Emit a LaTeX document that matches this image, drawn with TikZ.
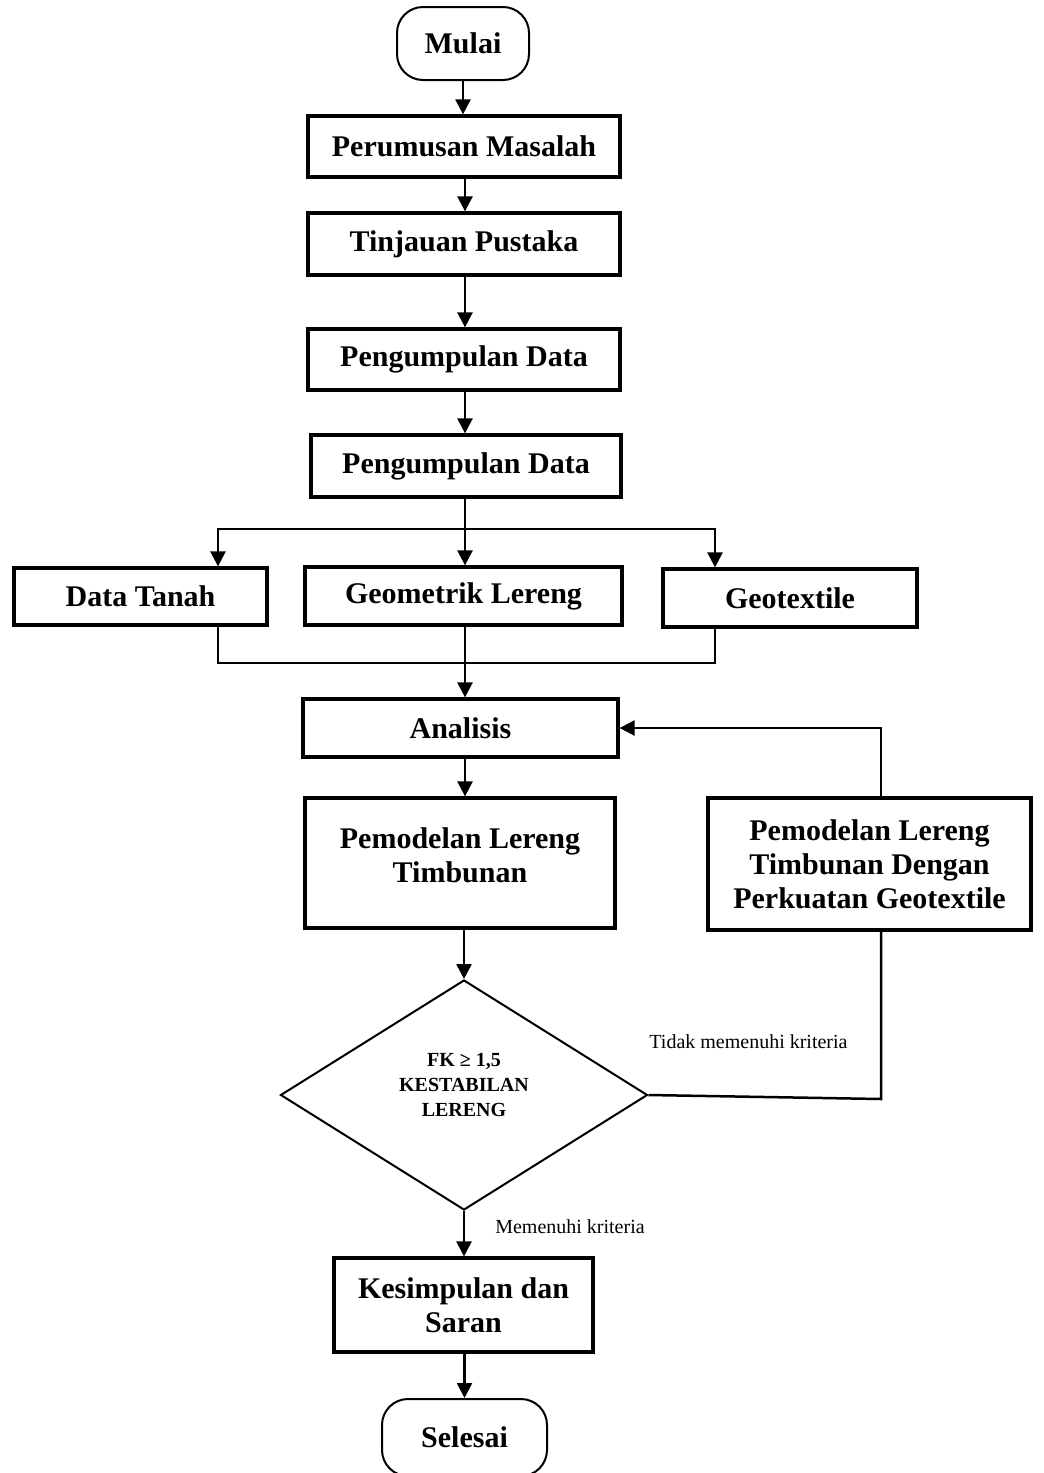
\documentclass[tikz,border=0pt]{standalone}
\usepackage{fontspec}
\setmainfont{Liberation Serif}
\usetikzlibrary{shapes.geometric,arrows.meta}
\begin{document}
\begin{tikzpicture}[x=1pt,y=-1pt,
  box/.style={draw, line width=3.3pt, inner sep=0pt, align=center, font=\bfseries\fontsize{30}{34}\selectfont},
  boxtext/.style={inner sep=0pt, align=center, font=\bfseries\fontsize{30}{34}\selectfont},
  term/.style={draw, line width=2pt, rounded corners=26pt, inner sep=0pt, font=\bfseries\fontsize{30}{34}\selectfont},
  dec/.style={diamond, draw, line width=2pt, inner sep=0pt},
  dectext/.style={inner sep=0pt, align=center, font=\bfseries\fontsize{20}{25}\selectfont},
  arr/.style={line width=2.5pt, -{Triangle[length=15pt,width=15pt]}},
  conn/.style={line width=2.5pt},
  thinconn/.style={line width=2pt},
  lbl/.style={inner sep=0pt, font=\fontsize{20}{24}\selectfont}]
\fill[white] (0,0) rectangle (1044,1473);
\clip (0,0) rectangle (1044,1473);

% column coordinates
\coordinate (cx) at (465,0);
\coordinate (xl) at (218,0);
\coordinate (xr) at (715,0);
\coordinate (xf) at (881,0);

% nodes
\node[term, minimum width=132pt, minimum height=73pt] (mulai) at (463,43.5) {Mulai};
\node[box, minimum width=312pt, minimum height=61pt] (perumusan) at (464,146.5) {Perumusan Masalah};
\node[box, minimum width=312pt, minimum height=62pt] (tinjauan) at (464,244) {Tinjauan Pustaka};
\node[box, minimum width=312pt, minimum height=61pt] (peng1) at (464,359.5) {Pengumpulan Data};
\node[box, minimum width=310pt, minimum height=62pt] (peng2) at (466,466) {Pengumpulan Data};

\node[box, minimum width=253pt, minimum height=57pt] (dt) at (140.5,596.5) {Data Tanah};
\node[box, minimum width=317pt, minimum height=58pt] (geom) at (463.5,596) {Geometrik Lereng};
\node[box, minimum width=254pt, minimum height=58pt] (geot) at (790,598) {Geotextile};

\node[box, minimum width=315pt, minimum height=58pt] (analisis) at (460.5,728) {Analisis};
\node[box, minimum width=310pt, minimum height=130pt] (pem1) at (460,863) {};
\node[boxtext] (pem1t) at (460,855) {Pemodelan Lereng\\Timbunan};
\node[box, minimum width=323pt, minimum height=132pt] (pem2) at (869.5,864) {Pemodelan Lereng\\Timbunan Dengan\\Perkuatan Geotextile};

\node[dec, minimum width=367pt, minimum height=230pt] (dia) at (464,1095) {};
\node[dectext] (diat) at (464,1085) {FK ≥ 1,5\\KESTABILAN\\LERENG};

\node[box, minimum width=259pt, minimum height=94pt] (kes) at (463.5,1305) {Kesimpulan dan\\Saran};
\node[term, minimum width=165pt, minimum height=77pt] (sel) at (464.5,1437.5) {Selesai};

\node[lbl, anchor=base] (ltidak) at (748.5,1048) {Tidak memenuhi kriteria};
\node[lbl, anchor=base] (lmemenuhi) at (570,1233) {Memenuhi kriteria};

% helper coordinates
\coordinate (br) at (465,529);
\coordinate (mg) at (465,663);
\coordinate (dcorner) at (881,1099);

% connectors
\draw[arr] (mulai.south) -- (perumusan.north -| mulai.south);
\draw[arr] (perumusan.south -| cx) -- (tinjauan.north -| cx);
\draw[arr] (tinjauan.south -| cx) -- (peng1.north -| cx);
\draw[arr] (peng1.south -| cx) -- (peng2.north -| cx);

\draw[conn] (peng2.south -| cx) -- (br);
\draw[arr] (br) -- (geom.north -| cx);
\draw[arr] (br) -| (dt.north -| xl);
\draw[arr] (br) -| (geot.north -| xr);

\draw[thinconn] (dt.south -| xl) |- (mg) -| (geot.south -| xr);
\draw[thinconn] (geom.south -| cx) -- (mg);
\draw[arr] (mg) -- (analisis.north -| cx);

\draw[arr] (analisis.south -| cx) -- (pem1.north -| cx);
\draw[arr] (pem1.south -| dia.north) -- (dia.north);

\draw[arr] (pem2.north -| xf) |- (analisis.east);
\draw[conn] (dia.east) -- (dcorner) -- (pem2.south -| xf);

\draw[arr] (dia.south) -- (kes.north -| dia.south);
\draw[arr] (kes.south -| sel.north) -- (sel.north);
\end{tikzpicture}
\end{document}
